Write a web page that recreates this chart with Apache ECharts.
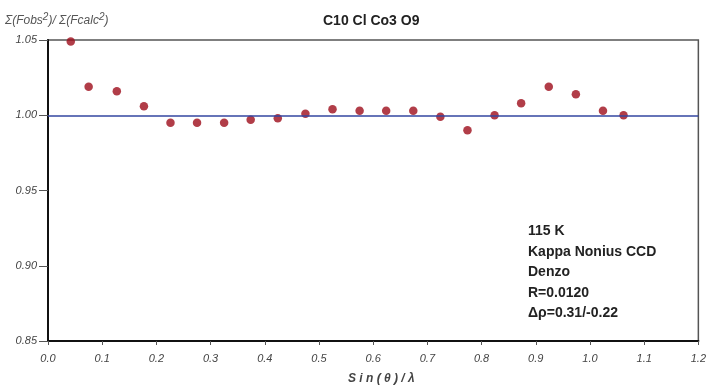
<!DOCTYPE html>
<html><head><meta charset="utf-8">
<script src="https://cdn.jsdelivr.net/npm/echarts@6/dist/echarts.min.js"></script>
<style>html,body{margin:0;padding:0;background:#fff}#c{width:709px;height:390px}</style>
</head><body><div id="c"></div>
<script>
const xValues = [0.042,0.075,0.127,0.177,0.226,0.275,0.325,0.374,0.424,0.475,0.525,0.575,0.624,0.674,0.724,0.774,0.824,0.873,0.924,0.974,1.024,1.062];
const yValues = [1.049,1.019,1.016,1.006,0.995,0.995,0.995,0.997,0.998,1.001,1.004,1.003,1.003,1.003,0.999,0.990,1.000,1.008,1.019,1.014,1.003,1.000];
const refLine = 1.00;
const titleText = 'C10 Cl Co3 O9';
const xAxisName = 'S i n ( \u03b8 ) / \u03bb';
const infoLines = ['115 K','Kappa Nonius CCD','Denzo','R=0.0120','\u0394\u03c1=0.31/-0.22'];

const chart = echarts.init(document.getElementById('c'));
const font = '"Liberation Sans", Arial, sans-serif';
chart.setOption({
  animation:false,
  backgroundColor:'#fff',
  title:{text:titleText,left:323,top:14,padding:0,textStyle:{fontFamily:font,fontSize:14,fontWeight:'bold',color:'#222'}},
  grid:{left:48,right:8,top:40,bottom:49,show:true,borderColor:'#555',borderWidth:1.5,backgroundColor:'#fff'},
  xAxis:{type:'value',min:0,max:1.2,interval:0.1,
    axisLine:{show:true,lineStyle:{color:'#111',width:2}},
    axisTick:{show:true,length:4,lineStyle:{color:'#555'}},
    axisLabel:{margin:12,fontFamily:font,fontStyle:'italic',fontSize:11,color:'#444',formatter:v=>v.toFixed(1)},
    splitLine:{show:false}},
  yAxis:{type:'value',min:0.85,max:1.05,interval:0.05,
    axisLine:{show:true,lineStyle:{color:'#111',width:2}},
    axisTick:{show:true,length:9,lineStyle:{color:'#555'}},
    axisLabel:{margin:11,fontFamily:font,fontStyle:'italic',fontSize:11,color:'#444',formatter:v=>v.toFixed(2)},
    splitLine:{show:false}},
  graphic:[
    {type:'text',left:5,top:12,style:{
      text:'{a|\u03a3(Fobs}{s|2}{a|)/ \u03a3(Fcalc}{s|2}{a|)}',
      rich:{a:{fontFamily:font,fontStyle:'italic',fontSize:12,fill:'#555',verticalAlign:'bottom'},
            s:{fontFamily:font,fontStyle:'italic',fontSize:10,fill:'#555',verticalAlign:'top',padding:[0,0,5,0]}}}},
    {type:'text',left:348,top:373,style:{text:xAxisName,font:'italic bold 12px '+font,fill:'#444'}},
    {type:'text',left:528,top:221,style:{text:infoLines.join('\n'),lineHeight:20.5,font:'bold 14px '+font,fill:'#222'}}
  ],
  series:[{type:'scatter',data:xValues.map((x,i)=>[x,yValues[i]]),symbolSize:8.5,
    itemStyle:{color:'#9e0c1a'},
    markLine:{silent:true,symbol:'none',label:{show:false},lineStyle:{color:'#3346a0',width:1.5,type:'solid'},data:[{yAxis:refLine}]},
    z:3}]
});
</script></body></html>
